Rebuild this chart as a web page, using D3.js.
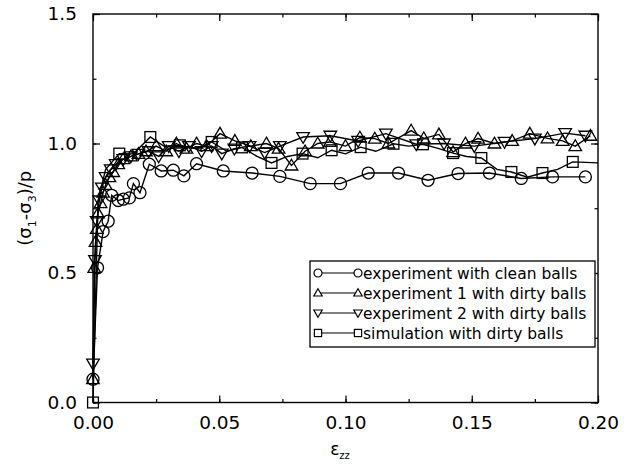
<!DOCTYPE html>
<html>
<head>
<meta charset="utf-8">
<script src="https://cdn.jsdelivr.net/npm/d3@7"></script>
<style>
  body { margin: 0; background: #fff; }
  text { font-family: "DejaVu Sans", sans-serif; fill: #000; }
</style>
</head>
<body>
<div id="chart"></div>
<script>
// strain eps_zz vs (sigma1 - sigma3)/p
const clean = [
  [0, 0.09], [0.0018, 0.52], [0.004, 0.66], [0.006, 0.70], [0.0074, 0.80], [0.010, 0.78],
  [0.012, 0.785], [0.0144, 0.79], [0.016, 0.845], [0.0186, 0.81], [0.0223, 0.92], [0.027, 0.894],
  [0.0318, 0.897], [0.036, 0.875], [0.041, 0.922], [0.0516, 0.894], [0.063, 0.886], [0.074, 0.873],
  [0.086, 0.845], [0.098, 0.845], [0.109, 0.886], [0.121, 0.886], [0.1327, 0.858], [0.1446, 0.884],
  [0.157, 0.886], [0.1696, 0.865], [0.182, 0.871], [0.195, 0.871]
];
const dirty1 = [
  [0, 0.09], [0.0005, 0.52], [0.001, 0.62], [0.0015, 0.67], [0.002, 0.73], [0.003, 0.77],
  [0.004, 0.81], [0.005, 0.84], [0.0065, 0.87], [0.008, 0.89], [0.010, 0.92], [0.012, 0.94],
  [0.015, 0.95], [0.018, 0.96], [0.021, 0.97], [0.025, 0.99], [0.029, 0.97], [0.033, 1.0],
  [0.037, 0.98], [0.041, 1.0], [0.045, 0.99], [0.0503, 1.038], [0.0562, 1.01], [0.0625, 0.99],
  [0.0687, 1.0], [0.0735, 0.98], [0.0786, 0.915], [0.084, 0.97], [0.089, 1.0], [0.0938, 1.006],
  [0.1, 0.99], [0.1057, 1.023], [0.1116, 1.019], [0.117, 1.0], [0.126, 1.05], [0.131, 1.02],
  [0.137, 1.035], [0.1426, 0.967], [0.1475, 1.0], [0.1525, 1.019], [0.159, 1.0], [0.166, 1.01],
  [0.173, 1.038], [0.18, 1.02], [0.186, 1.01], [0.191, 0.99], [0.197, 1.03]
];
const dirty2 = [
  [0, 0.15], [0.0008, 0.55], [0.0015, 0.70], [0.0025, 0.78], [0.0035, 0.83], [0.005, 0.87],
  [0.007, 0.90], [0.009, 0.92], [0.012, 0.94], [0.015, 0.95], [0.018, 0.96], [0.022, 0.97],
  [0.026, 0.95], [0.030, 0.99], [0.034, 0.97], [0.038, 0.99], [0.043, 0.97], [0.047, 0.99],
  [0.051, 0.961], [0.056, 0.98], [0.062, 0.99], [0.068, 0.965], [0.074, 0.99], [0.0832, 1.025],
  [0.094, 1.03], [0.105, 1.01], [0.116, 1.038], [0.128, 0.997], [0.139, 1.0], [0.151, 0.99],
  [0.163, 1.006], [0.175, 1.019], [0.187, 1.04], [0.195, 1.03]
];
// third value: 1 = point carries a marker
const sim = [
  [0, 0, 1], [0.002, 0.78, 0], [0.005, 0.9, 0], [0.0104, 0.961, 1], [0.016, 0.96, 0], [0.0227, 1.025, 1],
  [0.028, 0.99, 0], [0.0344, 0.993, 1], [0.041, 0.98, 0], [0.047, 1.006, 1], [0.053, 0.97, 0],
  [0.059, 0.985, 1], [0.065, 0.95, 0], [0.0707, 0.925, 1], [0.077, 0.95, 0], [0.083, 0.961, 1],
  [0.089, 0.945, 0], [0.0945, 0.974, 1], [0.1, 0.96, 0], [0.106, 0.986, 1], [0.112, 0.97, 0],
  [0.119, 0.999, 1], [0.125, 0.99, 0], [0.1307, 0.997, 1], [0.137, 0.98, 0], [0.1426, 0.963, 1],
  [0.148, 0.95, 0], [0.1538, 0.944, 1], [0.16, 0.9, 0], [0.1657, 0.89, 1], [0.172, 0.87, 0],
  [0.178, 0.886, 1], [0.184, 0.9, 0], [0.19, 0.929, 1], [0.2, 0.925, 0]
];

const seriesNames = [
  "experiment with clean balls",
  "experiment 1 with dirty balls",
  "experiment 2 with dirty balls",
  "simulation with dirty balls"
];
const xTicks = [0, 0.05, 0.10, 0.15, 0.20];
const yTicks = [0, 0.5, 1.0, 1.5];

const width = 631, height = 465;
const margin = {top: 14, right: 33, bottom: 62.5, left: 93};
const innerW = width - margin.left - margin.right;
const innerH = height - margin.top - margin.bottom;

const svg = d3.select("#chart").append("svg")
    .attr("width", width)
    .attr("height", height);
const g = svg.append("g")
    .attr("transform", `translate(${margin.left}, ${margin.top})`);

const x = d3.scaleLinear().domain([0, 0.2]).range([0, innerW]);
const y = d3.scaleLinear().domain([0, 1.5]).range([innerH, 0]);

// frame
g.append("rect")
    .attr("width", innerW).attr("height", innerH)
    .attr("fill", "none").attr("stroke", "#000").attr("stroke-width", 1.4);

const minorX = d3.range(0, 0.2001, 0.025);
const minorY = d3.range(0, 1.5001, 0.25);

function styleAxis(sel) {
    sel.select(".domain").remove();
    sel.selectAll("line").attr("stroke", "#000").attr("stroke-width", 1.2);
    sel.selectAll("text").style("font-family", "DejaVu Sans, sans-serif").style("font-size", "18.5px");
}

// bottom / left with labels
g.append("g").attr("transform", `translate(0, ${innerH})`)
    .call(d3.axisBottom(x).tickValues(xTicks).tickSize(-7).tickPadding(13).tickFormat(d3.format(".2f")))
    .call(styleAxis);
g.append("g")
    .call(d3.axisLeft(y).tickValues(yTicks).tickSize(-7).tickPadding(16).tickFormat(d3.format(".1f")))
    .call(styleAxis);
g.append("g").attr("transform", `translate(0, ${innerH})`)
    .call(d3.axisBottom(x).tickValues(minorX).tickSize(-3.5).tickFormat(""))
    .call(styleAxis);
g.append("g")
    .call(d3.axisLeft(y).tickValues(minorY).tickSize(-3.5).tickFormat(""))
    .call(styleAxis);
// mirrored ticks on top / right
g.append("g")
    .call(d3.axisTop(x).tickValues(xTicks).tickSize(-7).tickFormat(""))
    .call(styleAxis);
g.append("g")
    .call(d3.axisTop(x).tickValues(minorX).tickSize(-3.5).tickFormat(""))
    .call(styleAxis);
g.append("g").attr("transform", `translate(${innerW}, 0)`)
    .call(d3.axisRight(y).tickValues(yTicks).tickSize(-7).tickFormat(""))
    .call(styleAxis);
g.append("g").attr("transform", `translate(${innerW}, 0)`)
    .call(d3.axisRight(y).tickValues(minorY).tickSize(-3.5).tickFormat(""))
    .call(styleAxis);

// marker shapes
const markers = {
    circle: (s, r) => s.append("circle").attr("r", r),
    up: (s, r) => s.append("path").attr("d", `M0,${-r * 1.05}L${r * 1.05},${r * 0.75}L${-r * 1.05},${r * 0.75}Z`),
    down: (s, r) => s.append("path").attr("d", `M0,${r * 1.05}L${r * 1.05},${-r * 0.75}L${-r * 1.05},${-r * 0.75}Z`),
    square: (s, r) => s.append("rect").attr("x", -r * 0.9).attr("y", -r * 0.9).attr("width", r * 1.8).attr("height", r * 1.8)
};

const series = [
    {data: clean, shape: "circle"},
    {data: dirty1, shape: "up"},
    {data: dirty2, shape: "down"},
    {data: sim, shape: "square"}
];

const line = d3.line().x(d => x(d[0])).y(d => y(d[1]));
const plot = g.append("g");

series.forEach(s => {
    plot.append("path")
        .datum(s.data)
        .attr("d", line)
        .attr("fill", "none")
        .attr("stroke", "#000")
        .attr("stroke-width", 1.4);
    const pts = s.data.filter(d => d.length < 3 || d[2] === 1);
    plot.append("g").selectAll("g")
        .data(pts)
        .join("g")
        .attr("transform", d => `translate(${x(d[0])}, ${y(d[1])})`)
        .each(function() { markers[s.shape](d3.select(this), 6); })
        .selectAll("*")
        .attr("fill", "none").attr("stroke", "#000").attr("stroke-width", 1.3);
});

// legend
const legend = g.append("g").attr("transform", `translate(${310 - margin.left}, ${261 - margin.top})`);
legend.append("rect")
    .attr("width", 285).attr("height", 86)
    .attr("fill", "#fff").attr("stroke", "#000").attr("stroke-width", 1.3);
series.forEach((s, i) => {
    const row = legend.append("g").attr("transform", `translate(0, ${12 + i * 20})`);
    row.append("line").attr("x1", 8).attr("x2", 48)
        .attr("stroke", "#000").attr("stroke-width", 1.2);
    [8, 48].forEach(px => {
        const m = row.append("g").attr("transform", `translate(${px}, 0)`);
        markers[s.shape](m, 4).attr("fill", "#fff").attr("stroke", "#000").attr("stroke-width", 1.2);
    });
    row.append("text")
        .attr("x", 53).attr("dy", "0.36em")
        .style("font-size", "15.5px")
        .text(seriesNames[i]);
});

// axis labels
const yLab = svg.append("text")
    .attr("transform", `translate(31, ${margin.top + innerH / 2}) rotate(-90)`)
    .attr("text-anchor", "middle")
    .style("font-size", "18px");
yLab.append("tspan").text("(σ");
yLab.append("tspan").text("1").attr("dy", 5).style("font-size", "11px");
yLab.append("tspan").text("-σ").attr("dy", -5);
yLab.append("tspan").text("3").attr("dy", 5).style("font-size", "11px");
yLab.append("tspan").text(")/p").attr("dy", -5);

const xLab = svg.append("text")
    .attr("x", 340).attr("y", 455)
    .attr("text-anchor", "middle")
    .style("font-size", "17px");
xLab.append("tspan").text("ε");
xLab.append("tspan").text("zz").attr("dy", 4).style("font-size", "10px");
</script>
</body>
</html>
